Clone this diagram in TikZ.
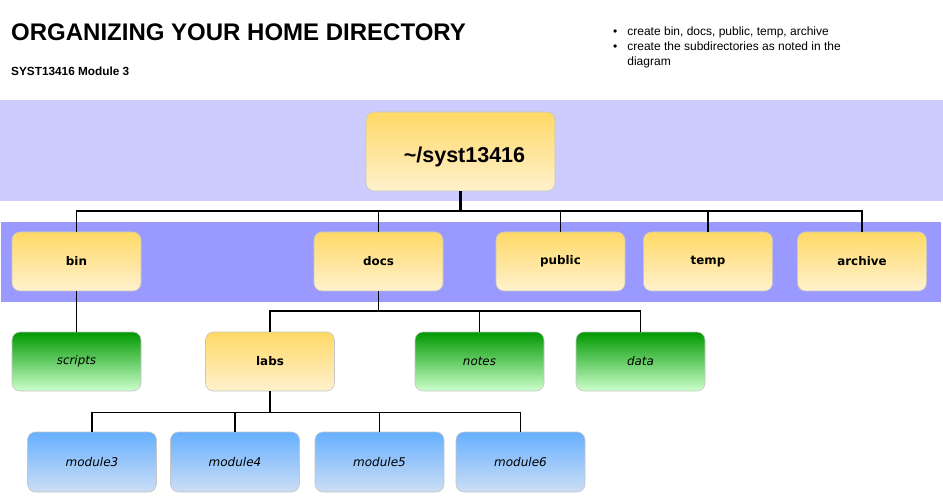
\documentclass[tikz,border=0pt]{standalone}
\usepackage{fontspec}
\setmainfont{Liberation Sans}
\newfontfamily\dv{DejaVu Sans}
\begin{document}
\begin{tikzpicture}[x=1pt,y=-1pt,
  box/.style={rounded corners=8pt, draw=gray!45, line width=0.6pt, inner sep=0pt, minimum width=129pt, minimum height=59pt},
  yel/.style={box, top color={rgb,255:red,255;green,217;blue,102}, bottom color={rgb,255:red,255;green,241;blue,205}, font=\dv\bfseries\fontsize{11.9}{14}\selectfont},
  grn/.style={box, top color={rgb,255:red,0;green,153;blue,0}, bottom color={rgb,255:red,204;green,255;blue,204}, font=\dv\itshape\fontsize{11.9}{14}\selectfont},
  blu/.style={box, top color={rgb,255:red,102;green,176;blue,255}, bottom color={rgb,255:red,204;green,222;blue,245}, font=\dv\itshape\fontsize{12}{14}\selectfont, minimum height=60pt},
  conn/.style={line width=1.6pt, black}]
\useasboundingbox (0,0) rectangle (943,497);
\fill[white] (0,0) rectangle (943,497);
% bands
\fill[fill={rgb,255:red,204;green,204;blue,255}] (0,100) rectangle (943,201);
\fill[fill={rgb,255:red,153;green,153;blue,255}] (1,222) rectangle (941,302);
% headings
\node[anchor=base west, inner sep=0pt, font=\bfseries\fontsize{24}{28}\selectfont] (title) at (11,41) {ORGANIZING YOUR HOME DIRECTORY};
\node[anchor=base west, inner sep=0pt, font=\bfseries\fontsize{11.8}{14}\selectfont] (sub) at (11,76) {SYST13416 Module 3};
\node[anchor=north west, inner sep=0pt, font=\fontsize{12}{15}\selectfont] (notes) at (613,25)
  {\fontsize{12}{15}\selectfont\begin{tabular}{@{}l@{\hspace{10pt}}l@{}}
  \textbullet & create bin, docs, public, temp, archive\\
  \textbullet & create the subdirectories as noted in the\\
   & diagram
  \end{tabular}};
% root
\node[yel, minimum width=189pt, minimum height=79pt, font=\bfseries\fontsize{21.5}{26}\selectfont] (root) at (460.5,151.5) {\hspace{8pt}\raisebox{-11pt}[0pt][0pt]{\textasciitilde/syst13416}};
% level 1
\node[yel] (bin) at (76.5,261.5) {bin};
\node[yel] (docs) at (378.5,261.5) {docs};
\node[yel] (public) at (560.5,261.5) {public};
\node[yel] (temp) at (708,261.5) {temp};
\node[yel] (archive) at (862,261.5) {archive};
% level 2
\node[grn] (scripts) at (76.5,361.5) {scripts};
\node[yel] (labs) at (270,361.5) {labs};
\node[grn] (notesdir) at (479.5,361.5) {notes};
\node[grn] (data) at (640.5,361.5) {data};
% level 3
\node[blu] (m3) at (92,462) {module3};
\node[blu] (m4) at (235,462) {module4};
\node[blu] (m5) at (379.5,462) {module5};
\node[blu] (m6) at (520.5,462) {module6};
% connectors
\draw[conn, line width=2.4pt] (root.south) -- ++(0,20) coordinate (rb);
\draw[conn] (bin.north) |- (rb) -| (archive.north);
\foreach \n in {docs,public,temp} \draw[conn] (\n.north) -- (\n.north |- rb);
\draw[conn] (bin.south) -- (scripts.north);
\draw[conn] (docs.south) -- ++(0,20) coordinate (db);
\draw[conn] (labs.north) |- (db) -| (data.north);
\draw[conn] (notesdir.north) -- (notesdir.north |- db);
\draw[conn, line width=2.4pt] (labs.south) -- ++(0,21) coordinate (lb);
\draw[conn] (m3.north) |- (lb) -| (m6.north);
\foreach \n in {m4,m5} \draw[conn] (\n.north) -- (\n.north |- lb);
\end{tikzpicture}
\end{document}
